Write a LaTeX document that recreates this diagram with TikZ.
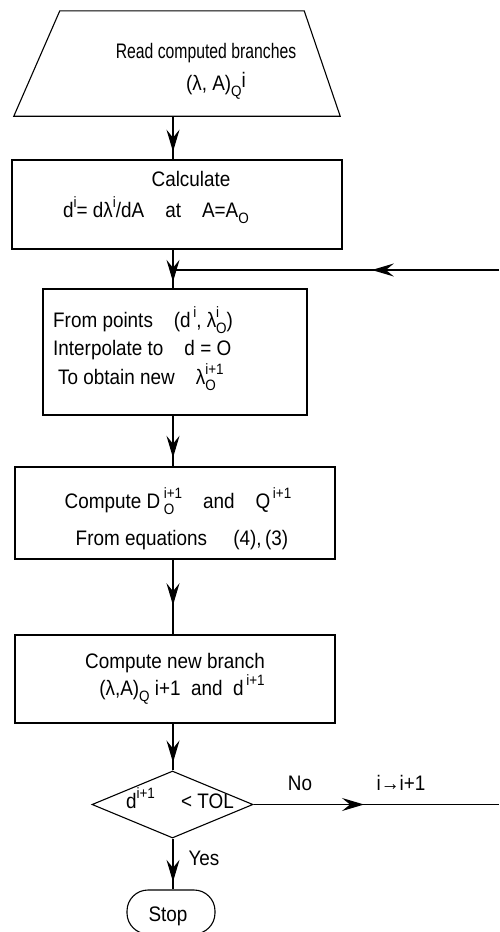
\documentclass[tikz,border=0pt]{standalone}
\usepackage{amsmath}
\usepackage{fontspec}
\setmainfont{Liberation Sans}[FakeStretch=0.9]
\newfontfamily\tightfnt{Liberation Sans}[FakeStretch=0.75]
\usetikzlibrary{shapes.geometric,arrows.meta,decorations.markings}

\newcommand{\scriptfnt}{\fontsize{15}{15}\selectfont}
\newcommand{\supx}[1]{\raisebox{10pt}{\scriptfnt #1}}
\newcommand{\subx}[1]{\raisebox{-6pt}{\scriptfnt #1}}
\newcommand{\subsupx}[2]{\begingroup\setbox0\hbox{\subx{#1}}\setbox2\hbox{\supx{#2}}%
  \ifdim\wd0>\wd2 \rlap{\box2}\box0\else\rlap{\box0}\box2\fi\endgroup}

\tikzset{
  box/.style={draw, line width=1.1pt, inner sep=0pt},
  txt/.style={anchor=base, inner sep=0pt},
  flow/.style={line width=1.1pt, postaction={decorate},
    decoration={markings, mark=at position #1 with {\arrow{Stealth[length=22pt,width=13pt,inset=8pt]}}}},
}

\begin{document}
\begin{tikzpicture}[x=1pt, y=-1pt, every node/.style={font=\fontsize{21}{25}\selectfont}]
        \useasboundingbox (0,0) rectangle (499,932);
        % boxes
        \node[minimum width=326pt, minimum height=105pt, inner sep=0pt] (read) at (177,63.5) {};
        \draw[line width=1.1pt] (read.south west) -- ([xshift=46pt]read.north west)
              -- ([xshift=-36pt]read.north east) -- (read.south east) -- cycle;
        \node[box, minimum width=330pt, minimum height=89pt] (calc) at (177,204.5) {};
        \node[box, minimum width=264pt, minimum height=126pt] (interp) at (175,352) {};
        \node[box, minimum width=320pt, minimum height=92pt] (compute) at (175,513) {};
        \node[box, minimum width=320pt, minimum height=88pt] (branch) at (175,679) {};
        \node[box, diamond, aspect=2.4, minimum width=161pt, minimum height=67pt] (test) at (172.5,804.5) {};
        \node[box, rounded corners=21pt, minimum width=88pt, minimum height=44pt] (stop) at (171,912) {};
        % texts
        \node[txt] (readA) at (206,58) {\tightfnt Read computed branches};
        \node[txt] (readB) at (216,90) {(λ, A)\subx{Q}\raisebox{3pt}{i}};
        \node[txt] (calcA) at (191,186) {Calculate};
        \node[txt] (calcB) at (156,217) {d\supx{i}= dλ\supx{i}/dA\quad at\quad A=A\subx{O}};
        \node[txt, anchor=base west] (interpA) at (53,327) {From points\quad (d\supx{\,i}, λ\subsupx{O}{i})};
        \node[txt, anchor=base west] (interpB) at (53,355) {Interpolate to\quad d = O};
        \node[txt, anchor=base west] (interpC) at (58,384) {To obtain new\quad λ\subsupx{O}{i+1}};
        \node[txt] (computeA) at (178,508) {Compute D\,\subsupx{O}{i+1}\quad and\quad Q\supx{\,i+1}};
        \node[txt] (computeB) at (182,545) {From equations\quad\ (4),\,(3)};
        \node[txt] (branchA) at (175,668) {Compute new branch};
        \node[txt] (branchB) at (182,695) {(λ,A)\subx{Q}\ i+1\ \ and\ \ d\supx{\,i+1}};
        \node[txt] (testtxt) at (180,808) {d\supx{i+1}\quad\ < TOL};
        \node[txt] (stoptxt) at (168,921) {Stop};
        \node[txt] (no) at (300,790) {No};
        \node[txt] (incr) at (401,790) {i→i+1};
        \node[txt] (yes) at (204,865) {Yes};
        % connectors
        \coordinate (trunk) at (173,0);
        \coordinate (loopin) at (499,270);
        \coordinate (loopout) at (499,807);
        \draw[flow=0.82] (read.south -| trunk) -- (calc.north -| trunk);
        \draw[flow=0.83] (calc.south -| trunk) -- (interp.north -| trunk);
        \draw[flow=0.39] (loopin) -- (loopin -| trunk);
        \draw[flow=0.83] (interp.south -| trunk) -- (compute.north -| trunk);
        \draw[flow=0.61] (compute.south -| trunk) -- (branch.north -| trunk);
        \draw[flow=0.83] (branch.south -| trunk) -- (test.north -| trunk);
        \draw[flow=0.85] (test.south -| trunk) -- (stop.north -| trunk);
        \draw[flow=0.45] (test.east) -- (test.east -| loopout);
      \end{tikzpicture}
\end{document}
